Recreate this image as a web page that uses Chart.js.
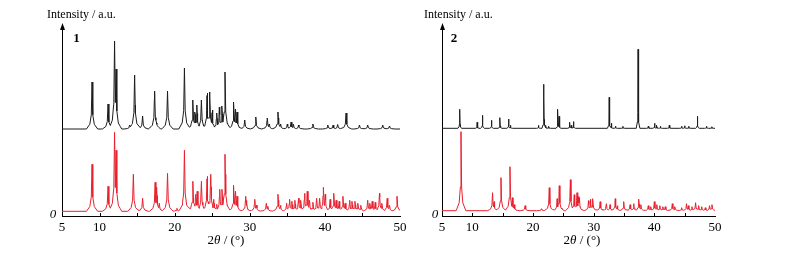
<!DOCTYPE html>
<html><head><meta charset="utf-8">
<script src="https://cdn.jsdelivr.net/npm/chart.js@4/dist/chart.umd.min.js"></script>
<style>
html,body{margin:0;padding:0;background:#fff;width:800px;height:258px;overflow:hidden}
#c1{position:absolute;left:0;top:0}
#c2{position:absolute;left:420px;top:0}
</style></head><body>
<canvas id="c1" width="420" height="258"></canvas>
<canvas id="c2" width="380" height="258"></canvas>
<script>
// ---- data (2θ in degrees, intensity in arbitrary units) ----
const xTickLabels = [5, 10, 20, 30, 40, 50];
const minorTicks = [10, 15, 20, 25, 30, 35, 40, 45];

// Compound 1, experimental (black), offset baseline
const base1Exp = 87;
const peaks1Exp = [[9.0,47],[11.13,25],[12.0,88],[12.2,60],[14.0,4],[14.67,54],[15.73,13],[17.33,38],[17.6,6],[19.05,38],[21.3,61],[22.42,29],[22.7,17],[22.95,24],[23.56,29],[24.32,36],[24.68,37],[25.0,19],[25.6,16],[25.95,22],[26.3,23],[26.7,57],[27.87,27],[28.1,20],[28.3,17],[29.33,9],[30.8,12],[32.33,11],[32.6,5],[33.75,17],[34.1,5],[35.0,5],[35.5,7],[35.8,5],[36.5,4],[38.4,5],[40.4,4],[41.1,4],[41.7,4.5],[42.82,16],[44.6,4],[45.7,4],[47.7,4],[48.6,3]];

// Compound 1, simulated (red)
const base1Sim = 4.7;
const peaks1Sim = [[9.0,47],[11.13,25],[12.0,79],[12.2,61],[14.5,37],[15.73,13],[17.4,29],[17.6,24],[17.95,8],[19.05,38],[20.3,3],[21.3,61],[22.42,30],[22.8,17],[23.0,20],[23.56,30],[24.32,35],[24.8,37],[25.2,12],[25.6,7],[26.0,22],[26.3,22],[26.7,57],[27.87,26],[28.1,20],[28.3,15],[29.46,15],[29.6,8],[30.66,12],[30.9,6],[32.2,8],[32.4,5],[33.75,17],[34.1,6],[34.9,8],[35.3,12],[35.6,10],[36.0,11],[36.5,13],[36.8,11],[37.3,18],[37.65,20],[37.95,11],[38.4,9],[38.9,13],[39.3,13],[39.8,24],[40.05,17],[40.7,12],[41.2,18],[41.5,11],[41.9,10],[42.4,15],[42.7,8],[43.3,11],[43.6,10],[44.0,10],[44.4,8],[44.8,6],[45.7,11],[46.0,8],[46.3,10],[46.7,9],[47.27,18],[47.6,8],[48.3,13],[48.6,6],[49.6,15]];

// Compound 2, experimental (black)
const base2Exp = 87.7;
const peaks2Exp = [[7.92,19],[10.79,6],[11.67,13],[13.16,8],[14.55,10.6],[15.98,9.3],[16.3,3],[20.9,3],[21.78,44],[22.1,3],[22.6,2],[24.10,19],[24.3,12],[26.04,6],[26.3,3],[26.7,6.7],[32.56,31],[32.9,5],[33.6,2],[34.83,2],[37.32,79],[39.0,2],[40.03,5],[40.4,3],[41.0,2],[42.46,3],[44.5,2],[45.0,2.5],[45.7,2],[47.1,12],[48.6,2],[49.5,1.5]];

// Compound 2, simulated (red)
const base2Sim = 5.3;
const peaks2Sim = [[8.13,79],[13.33,18],[13.6,9],[14.72,33],[16.2,44],[16.6,13],[16.9,6],[18.7,5],[21.4,2],[22.68,23],[23.98,12],[24.33,25],[26.16,31],[26.8,16],[27.26,18],[27.5,14],[27.65,13],[29.15,10],[29.5,11.5],[29.86,12],[31.07,9],[32.1,7],[32.7,6],[33.56,12],[33.9,5],[34.95,9],[36.0,6],[36.6,7],[37.44,11.5],[37.8,6],[39.0,5],[39.4,4],[40.0,9],[40.4,6],[40.9,5],[41.4,4],[41.8,4],[42.96,7],[43.4,4],[44.5,3],[45.3,7],[45.6,5],[46.2,4],[46.8,8],[47.3,5],[47.8,4],[48.4,3],[49.1,5],[49.5,6]];

// ---- build peak outlines (each peak drawn as a narrow spike with tails) ----
function outline(peaks, base, foot, knee, kneeFrac, mid, midFrac){
  const xs = new Set([5, 50]);
  peaks.forEach(([p]) => [p-foot, p-knee, p-mid, p, p+mid, p+knee, p+foot].forEach(v => { if (v >= 5 && v <= 50) xs.add(+v.toFixed(3)); }));
  const arr = [...xs].sort((a,b) => a-b);
  return arr.map(x => {
    let y = 0;
    for (const [p,h] of peaks){
      const d = Math.abs(x-p); let v = 0;
      if (d <= mid) v = h - (h - h*midFrac)*d/mid;
      else if (d <= knee) v = h*midFrac - (h*midFrac - h*kneeFrac)*(d-mid)/(knee-mid);
      else if (d < foot) v = h*kneeFrac*(foot-d)/(foot-knee);
      if (v > y) y = v;
    }
    return {x, y: base + y};
  });
}

const SERIF = "'Liberation Serif','DejaVu Serif',serif";

function decoPlugin(cfg){
  return {
    id: 'deco',
    afterDraw(chart){
      const ctx = chart.ctx, a = chart.chartArea, xs = chart.scales.x;
      ctx.save();
      ctx.strokeStyle = '#000'; ctx.fillStyle = '#000'; ctx.lineWidth = 1;
      minorTicks.forEach(v => {
        const px = Math.round(xs.getPixelForValue(v)) + 0.5;
        ctx.beginPath(); ctx.moveTo(px, a.bottom); ctx.lineTo(px, a.bottom - 3); ctx.stroke();
      });
      const ax = Math.round(a.left) + 0.5;
      ctx.beginPath(); ctx.moveTo(ax, a.top - 2); ctx.lineTo(ax - 2.5, a.top + 5); ctx.lineTo(ax + 2.5, a.top + 5); ctx.closePath(); ctx.fill();
      ctx.textBaseline = 'middle';
      ctx.font = '12px ' + SERIF; ctx.textAlign = 'left';
      ctx.fillText('Intensity / a.u.', cfg.intX, 15);
      ctx.font = 'italic 13px ' + SERIF; ctx.textAlign = 'center';
      ctx.fillText('0', cfg.zeroX, 215);
      ctx.font = 'bold 13px ' + SERIF;
      ctx.fillText(cfg.label, cfg.labelX, 39);
      const parts = [['2','13px '], ['θ','italic 13px '], [' / (°)','13px ']];
      let w = 0; parts.forEach(([t,f]) => { ctx.font = f + SERIF; w += ctx.measureText(t).width; });
      let x = cfg.titleX - w/2; ctx.textAlign = 'left';
      parts.forEach(([t,f]) => { ctx.font = f + SERIF; ctx.fillText(t, x, 241); x += ctx.measureText(t).width; });
      ctx.restore();
    }
  };
}

function makeChart(id, expData, simData, pad, cfg){
  return new Chart(document.getElementById(id), {
    type: 'line',
    data: { datasets: [
      { data: expData, borderColor: '#1c1c1c', borderWidth: 1, pointRadius: 0, tension: 0 },
      { data: simData, borderColor: '#e8202e', borderWidth: 1, pointRadius: 0, tension: 0 }
    ]},
    options: {
      responsive: false, animation: false, devicePixelRatio: 1,
      layout: { padding: pad },
      plugins: { legend: { display: false }, tooltip: { enabled: false } },
      scales: {
        x: {
          type: 'linear', min: 5, max: 50,
          afterBuildTicks: s => { s.ticks = xTickLabels.map(v => ({ value: v })); },
          afterFit: s => { s.height = 42; },
          grid: { display: false, drawTicks: false, tickLength: 0 },
          border: { display: true, color: '#000', width: 1 },
          ticks: { color: '#000', padding: 4, maxRotation: 0, autoSkip: false, font: { family: SERIF, size: 13 } }
        },
        y: {
          min: 0, max: 191,
          afterFit: s => { s.width = 0; },
          grid: { display: false, drawTicks: false },
          border: { display: true, color: '#000', width: 1 },
          ticks: { display: false }
        }
      }
    },
    plugins: [decoPlugin(cfg)]
  });
}

makeChart('c1', outline(peaks1Exp, base1Exp, 0.75, 0.3, 0.1, 0.1, 0.3), outline(peaks1Sim, base1Sim, 0.75, 0.3, 0.1, 0.1, 0.3),
  { left: 62, right: 20, top: 25, bottom: 0 },
  { intX: 47, zeroX: 53, label: '1', labelX: 76.5, titleX: 226 });
makeChart('c2', outline(peaks2Exp, base2Exp, 0.3, 0.12, 0.08, 0.05, 0.2), outline(peaks2Sim, base2Sim, 0.8, 0.3, 0.1, 0.1, 0.3),
  { left: 22, right: 85, top: 25, bottom: 0 },
  { intX: 4, zeroX: 15, label: '2', labelX: 34, titleX: 162 });
</script>
</body></html>
